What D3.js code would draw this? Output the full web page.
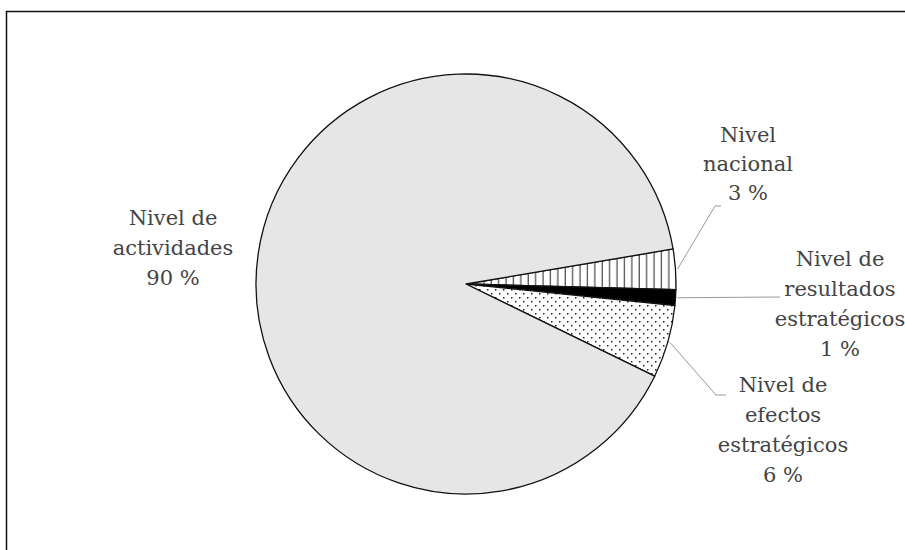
<!DOCTYPE html>
<html><head><meta charset="utf-8">
<script src="https://cdn.jsdelivr.net/npm/d3@7/dist/d3.min.js"></script>
<style>body{margin:0;background:#fff}svg{display:block}</style>
</head><body><svg id="c" width="905" height="550"></svg>
<script>
const categories = ["Nivel nacional", "Nivel de resultados estratégicos", "Nivel de efectos estratégicos", "Nivel de actividades"];
const values = [3.1, 1.2, 5.6, 90.1];
const labelLines = [["Nivel", "nacional", "3 %"], ["Nivel de", "resultados", "estratégicos", "1 %"], ["Nivel de", "efectos", "estratégicos", "6 %"], ["Nivel de", "actividades", "90 %"]];
const fills = ["url(#stripes)", "#000", "url(#dots)", "#e6e6e6"];

const svg = d3.select("#c");
const W = 905, H = 550;
svg.append("rect").attr("width", W).attr("height", H).attr("fill", "#fff");
svg.append("rect").attr("x", 6.5).attr("y", 11.5).attr("width", 930).attr("height", 560)
  .attr("fill", "none").attr("stroke", "#111").attr("stroke-width", 1.5);

const defs = svg.append("defs");
const st = defs.append("pattern").attr("id", "stripes").attr("patternUnits", "userSpaceOnUse")
  .attr("width", 7.4).attr("height", 10);
st.append("rect").attr("width", 7.4).attr("height", 10).attr("fill", "#fff");
st.append("line").attr("x1", 3).attr("x2", 3).attr("y1", 0).attr("y2", 10).attr("stroke", "#222").attr("stroke-width", 1);
const dt = defs.append("pattern").attr("id", "dots").attr("patternUnits", "userSpaceOnUse")
  .attr("width", 8).attr("height", 8);
dt.append("rect").attr("width", 8).attr("height", 8).attr("fill", "#fff");
dt.append("rect").attr("x", 1).attr("y", 1).attr("width", 1.5).attr("height", 1.5).attr("fill", "#222");
dt.append("rect").attr("x", 5).attr("y", 5).attr("width", 1.5).attr("height", 1.5).attr("fill", "#222");

const cx = 466, cy = 284, R = 210;
const start = (90 - 9.6) * Math.PI / 180;
const pie = d3.pie().sort(null).startAngle(start).endAngle(start + 2 * Math.PI);
const arcs = pie(values);
const arc = d3.arc().innerRadius(0).outerRadius(R);
const g = svg.append("g").attr("transform", `translate(${cx},${cy})`);
g.selectAll("path").data(arcs).join("path")
  .attr("d", arc).attr("fill", (d, i) => fills[i])
  .attr("stroke", "#111").attr("stroke-width", 1.3).attr("stroke-linejoin", "round");

// leader lines
const leaders = [
  [0, [715, 206], [721, 206]],
  [1, [780, 297]],
  [2, [716, 395], [726, 395]]
];
leaders.forEach(L => {
  const a = arcs[L[0]];
  const mid = (a.startAngle + a.endAngle) / 2;
  const p0 = [cx + Math.sin(mid) * (R + 2), cy - Math.cos(mid) * (R + 2)];
  const pts = [p0].concat(L.slice(1));
  svg.append("path").attr("d", d3.line()(pts)).attr("fill", "none")
    .attr("stroke", "#9a9a9a").attr("stroke-width", 1);
});

const labelPos = [[748, 142], [840, 266], [783, 392], [173, 225]];
const lineGap = [29, 30, 30, 30];
labelLines.forEach((lines, i) => {
  const t = svg.append("text").attr("text-anchor", "middle")
    .attr("font-family", "'DejaVu Serif', Georgia, serif").attr("font-size", 21)
    .attr("fill", "#444");
  lines.forEach((s, j) => t.append("tspan").attr("x", labelPos[i][0]).attr("y", labelPos[i][1] + j * lineGap[i]).text(s));
});
</script></body></html>
